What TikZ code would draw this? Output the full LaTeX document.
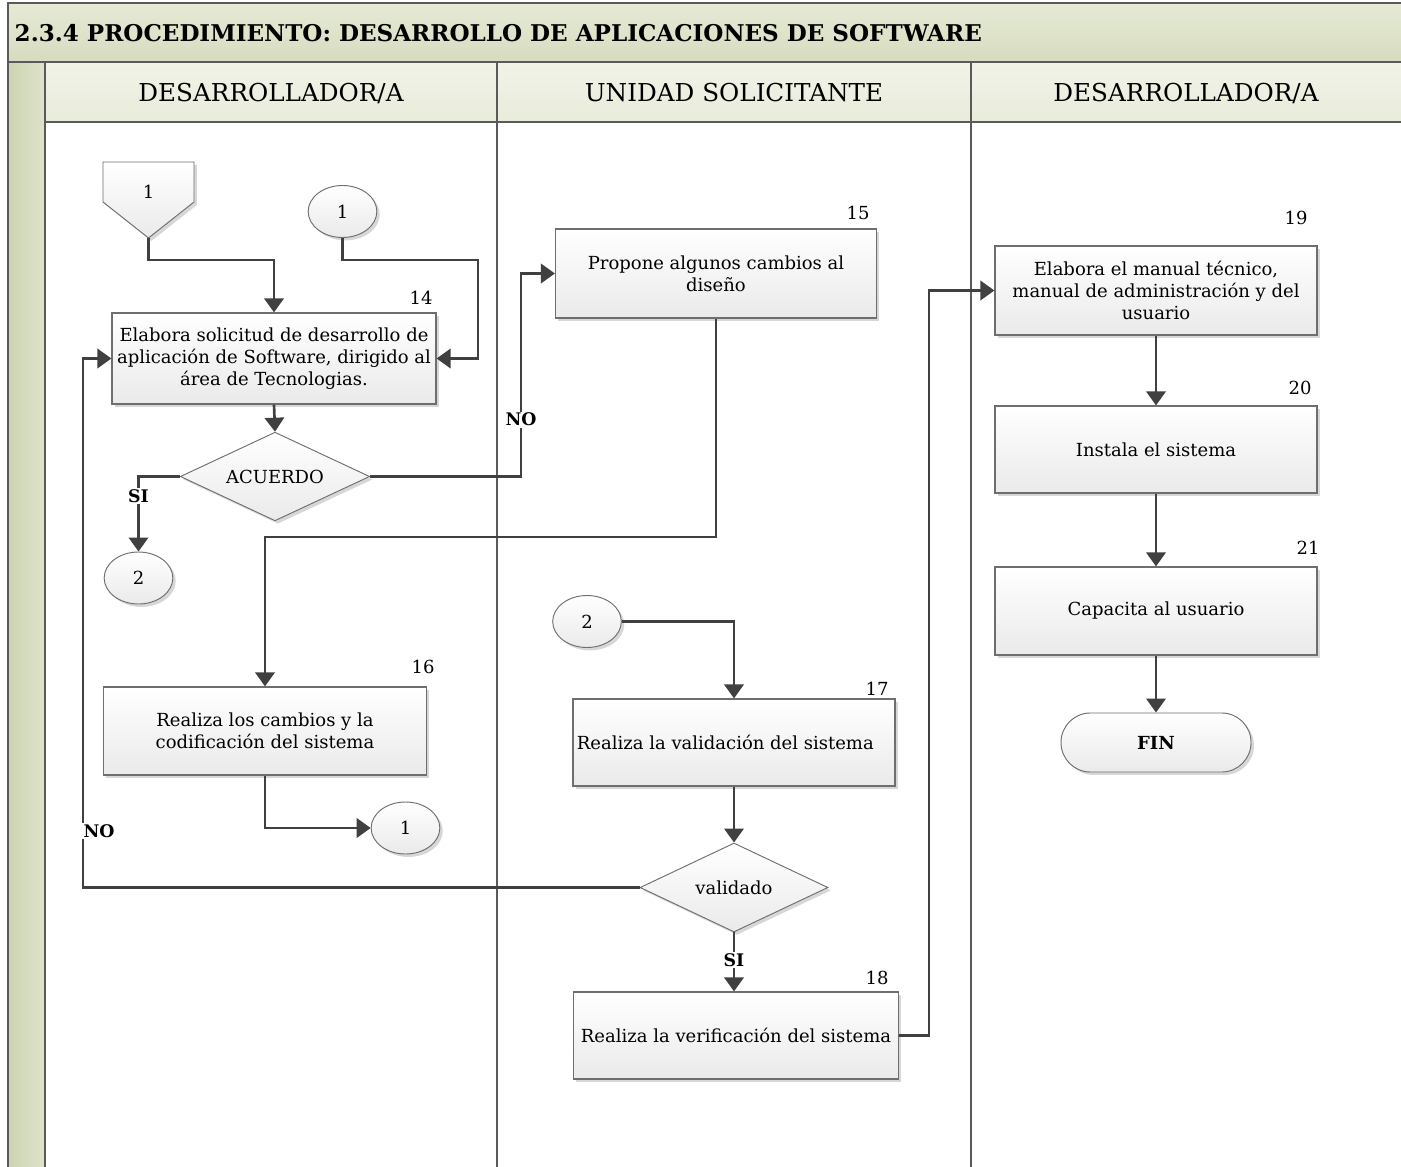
\documentclass[tikz,border=0pt]{standalone}
\usepackage{fontspec}
\setmainfont{DejaVu Serif}
\usetikzlibrary{arrows.meta,shapes.geometric,shadows}
\definecolor{framec}{HTML}{5A5A5A}
\definecolor{linec}{HTML}{404040}
\definecolor{titletop}{HTML}{E6EAD6}
\definecolor{titlebot}{HTML}{D6DCBF}
\definecolor{headtop}{HTML}{F1F3E8}
\definecolor{headbot}{HTML}{E8ECDA}
\definecolor{stripl}{HTML}{CDD4B2}
\definecolor{stripr}{HTML}{DEE3CA}
\definecolor{boxline}{HTML}{6E6E6E}
\definecolor{boxbot}{HTML}{EAEAEA}
\begin{document}
\begin{tikzpicture}[x=0.75pt,y=-0.75pt,
  font=\fontsize{13.5}{16.3}\selectfont,
  shade/.style={drop shadow={shadow xshift=2.2pt,shadow yshift=-2.2pt,fill=black!35,opacity=0.45}},
  stepbox/.style={rectangle,draw=boxline,line width=0.9pt,top color=white,bottom color=boxbot,
    align=center,inner sep=2pt,shade},
  decision/.style={diamond,draw=boxline,line width=0.7pt,top color=white,bottom color=boxbot,
    inner sep=0pt,shape aspect=2.1,shade},
  connector/.style={ellipse,draw=boxline,line width=0.7pt,top color=white,bottom color=boxbot,
    inner sep=0pt,minimum width=51.5pt,minimum height=39pt,shade},
  terminal/.style={rectangle,rounded corners=22pt,draw=boxline,line width=0.7pt,top color=white,
    bottom color=boxbot,minimum width=142.5pt,minimum height=44.25pt,shade,
    font=\fontsize{13.5}{16}\selectfont\bfseries},
  arr/.style={draw=linec,line width=2pt,-{Triangle[length=10.5pt,width=14.5pt]}},
  lbl/.style={fill=white,inner sep=1pt,font=\fontsize{13}{15}\selectfont\bfseries},
  num/.style={font=\fontsize{13.5}{15}\selectfont},
  lane/.style={draw=framec,line width=1.6pt},
  lanehead/.style={font=\fontsize{18.5}{22}\selectfont}
]
\useasboundingbox (0,0) rectangle (1401,1166);
\clip (0,0) rectangle (1401,1166);

% ---- frame: title band, lane headers, left strip ----
\fill[top color=titletop,bottom color=titlebot] (8,3) rectangle (1420,62);
\fill[top color=headtop,bottom color=headbot] (45,62) rectangle (1420,122);
\fill[left color=stripl,right color=stripr] (8,62) rectangle (45,1180);
\draw[lane] (8,1180) -- (8,3) -- (1420,3);
\draw[lane] (8,62) -- (1420,62);
\draw[lane] (45,122) -- (1420,122);
\draw[lane] (45,62) -- (45,1180);
\draw[lane] (497,62) -- (497,1180);
\draw[lane] (971,62) -- (971,1180);

\node[anchor=west,font=\fontsize{17.3}{20}\selectfont\bfseries] (title) at (10,33)
  {2.3.4 PROCEDIMIENTO: DESARROLLO DE APLICACIONES DE SOFTWARE};
\node[lanehead] (h1) at (271,93) {DESARROLLADOR/A};
\node[lanehead] (h2) at (734,93) {UNIDAD SOLICITANTE};
\node[lanehead] (h3) at (1186,93) {DESARROLLADOR/A};

% ---- lane 1 ----
\path[draw=boxline,line width=0.7pt,top color=white,bottom color=boxbot,shade]
  (103,162) -- (194,162) -- (194,202) -- (148.5,238) -- (103,202) -- cycle;
\node (p1) at (148.5,192) {1};
\coordinate (offp) at (148.5,238);

\node[connector] (c1t) at (342.5,211.5) {1};

\node[stepbox,minimum width=243pt,minimum height=68.25pt] (b14) at (274,358.5)
  {Elabora solicitud de desarrollo de\\aplicación de Software, dirigido al\\área de Tecnologias.};
\node[num] (n14) at (421,298) {14};

\node[decision,minimum width=142pt,minimum height=66.5pt] (dA) at (275,476.5) {ACUERDO};

\node[connector] (c2l) at (138.5,578) {2};

\node[stepbox,minimum width=242.25pt,minimum height=66pt] (b16) at (265,731)
  {Realiza los cambios y la\\codificación del sistema};
\node[num] (n16) at (423,667) {16};

\node[connector] (c1b) at (405.5,828) {1};

% ---- lane 2 ----
\node[stepbox,minimum width=240.75pt,minimum height=66.75pt] (b15) at (716,273.5)
  {Propone algunos cambios al\\diseño};
\node[num] (n15) at (858,213) {15};

\node[connector] (c2m) at (587,621.5) {2};

\node[stepbox,minimum width=241.5pt,minimum height=65.25pt] (b17) at (734,742.5)
  {Realiza la validación del sistema\hspace*{13pt}};
\node[num] (n17) at (877,689) {17};

\node[decision,minimum width=141pt,minimum height=66.75pt] (dV) at (734,887.5) {validado};

\node[stepbox,minimum width=243.75pt,minimum height=65.25pt] (b18) at (736,1035.5)
  {Realiza la verificación del sistema};
\node[num] (n18) at (877,978) {18};

% ---- lane 3 ----
\node[stepbox,minimum width=241.5pt,minimum height=66.75pt] (b19) at (1156,290.5)
  {Elabora el manual técnico,\\manual de administración y del\\usuario};
\node[num] (n19) at (1296,218) {19};

\node[stepbox,minimum width=241.5pt,minimum height=65.25pt] (b20) at (1156,449.5)
  {Instala el sistema};
\node[num] (n20) at (1300,388) {20};

\node[stepbox,minimum width=241.5pt,minimum height=66pt] (b21) at (1156,611)
  {Capacita al usuario};
\node[num] (n21) at (1308,548) {21};

\node[terminal] (fin) at (1156,742.5) {FIN};

% ---- connectors ----
\draw[arr] (offp) -- (offp |- 0,260) -| (b14.north);
\draw[arr] (c1t.south) -- (c1t.south |- 0,260) -- (478,260) -- (478,0 |- b14.east) -- (b14.east);
\draw[arr] (b14.south) -- (dA.north);
\draw[arr] (dA.west) -| (c2l.north) node[lbl,pos=0.63] (si1) {SI};
\draw[arr] (dA.east) -- (521,0 |- dA.east) -- (521,0 |- b15.west)
  node[lbl,pos=0.28] (no1) {NO} -- (b15.west);
\draw[arr] (b15.south) |- (b16.north |- 0,537) -- (b16.north);
\draw[arr] (b16.south) |- (c1b.west);
\draw[arr] (c2m.east) -| (b17.north);
\draw[arr] (b17.south) -- (dV.north);
\draw[arr] (dV.west) -- (83,0 |- dV.west) -- (83,0 |- b14.west) -- (b14.west);
\node[lbl,anchor=west] (no2) at (82,831) {NO};
\draw[arr] (dV.south) -- (dV.south |- b18.north) node[lbl,pos=0.47] (si2) {SI};
\draw[arr] (b18.east) -- (929,0 |- b18.east) -- (929,0 |- b19.west) -- (b19.west);
\draw[arr] (b19.south) -- (b20.north);
\draw[arr] (b20.south) -- (b21.north);
\draw[arr] (b21.south) -- (fin.north);
\end{tikzpicture}
\end{document}
